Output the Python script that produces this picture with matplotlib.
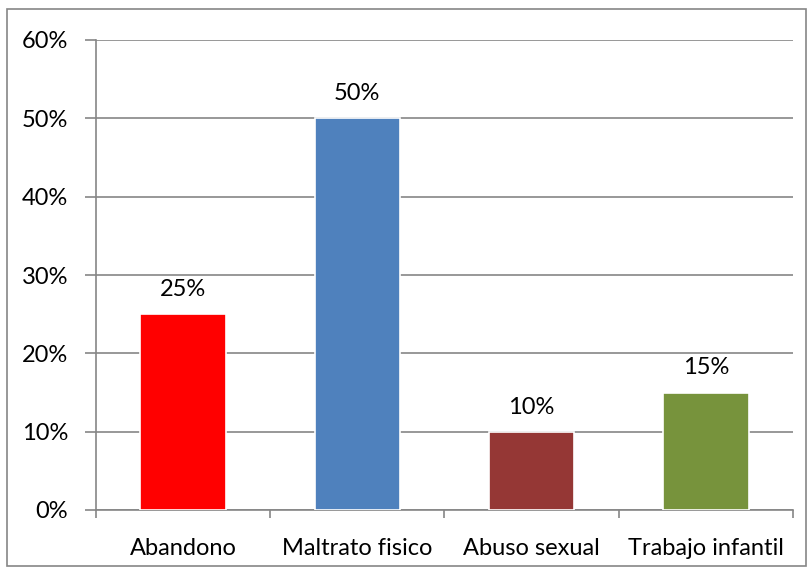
import numpy as np
import matplotlib.pyplot as plt
import matplotlib.patches as patches
from matplotlib.ticker import PercentFormatter

# data
categories = ['Abandono', 'Maltrato fisico', 'Abuso sexual', 'Trabajo infantil']
values = [25, 50, 10, 15]
colors = ['#FF0000', '#4F81BD', '#953735', '#77933C']

plt.rcParams['font.family'] = ['Lato', 'DejaVu Sans']
plt.rcParams['font.size'] = 17

fig = plt.figure(figsize=(8.12, 5.74), dpi=100)
ax = fig.add_axes([96 / 812, 1 - 510 / 574, (793 - 96) / 812, (510 - 40) / 574])

# outer chart border
fig.patches.append(patches.Rectangle((7 / 812, 1 - 566 / 574), 799 / 812, 557 / 574,
                                     transform=fig.transFigure, fill=False,
                                     edgecolor='#868686', linewidth=1.2))

x = np.arange(len(categories))
bars = ax.bar(x, values, width=0.49, color=colors, edgecolor='white', linewidth=1.2, zorder=3)

# labels above bars
for xi, v in zip(x, values):
    ax.text(xi, v + 1.8, '{}%'.format(v), ha='center', va='bottom')

ax.set_xlim(-0.5, len(categories) - 0.5)
ax.set_ylim(0, 60)
ax.set_yticks(np.arange(0, 61, 10))
ax.yaxis.set_major_formatter(PercentFormatter(decimals=0))
ax.set_xticks(x)
ax.set_xticklabels(categories)
ax.set_xticks(np.arange(-0.5, len(categories)), minor=True)

ax.yaxis.grid(True, color='#868686', linewidth=1.2, zorder=0)
ax.set_axisbelow(True)
for s in ['top', 'right']:
    ax.spines[s].set_visible(False)
for s in ['left', 'bottom']:
    ax.spines[s].set_color('#868686')
    ax.spines[s].set_linewidth(1.2)

ax.tick_params(axis='y', length=8, color='#868686', width=1.2, pad=12)
ax.tick_params(axis='x', which='major', length=0, pad=20)
ax.tick_params(axis='x', which='minor', length=6, color='#868686', width=1.2)

plt.savefig('out.png', dpi=100)
